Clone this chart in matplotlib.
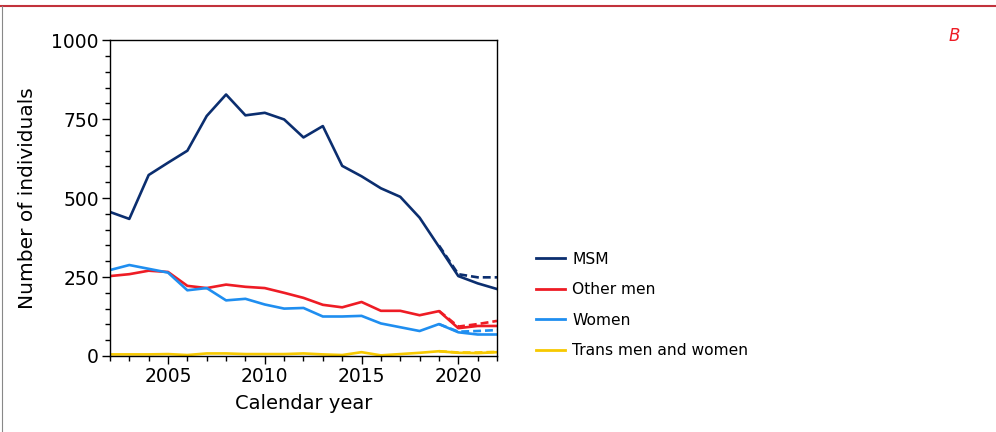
import matplotlib.pyplot as plt
from matplotlib.lines import Line2D
from matplotlib.ticker import MultipleLocator

years = list(range(2002, 2023))
msm = [456, 434, 573, 612, 650, 760, 828, 762, 770, 749, 692, 728, 602, 569, 531, 504, 438, 346, 253, 230, 212]
other_men = [253, 259, 270, 266, 222, 215, 226, 219, 215, 200, 184, 162, 154, 171, 143, 143, 129, 142, 88, 95, 95]
women = [272, 288, 276, 264, 208, 215, 176, 181, 163, 150, 152, 125, 125, 127, 103, 91, 79, 101, 75, 68, 68]
trans = [5, 5, 5, 6, 3, 8, 8, 6, 6, 6, 8, 5, 3, 12, 2, 6, 10, 15, 10, 9, 12]

# adjusted (dashed) estimates for recent years
adj_years = [2019, 2020, 2021, 2022]
msm_adj = [350, 259, 249, 249]
other_adj = [143, 93, 101, 111]
women_adj = [101, 77, 79, 82]
trans_adj = [15, 11, 11, 13]

labels = ['MSM', 'Other men', 'Women', 'Trans men and women']
colors = ['#0b2e6f', '#ee1c25', '#1f8ef0', '#f7c900']

fig = plt.figure(figsize=(9.96, 4.32), dpi=100)
ax = fig.add_axes([0.1104, 0.176, 0.3886, 0.731])

series = [msm, other_men, women, trans]
adj = [msm_adj, other_adj, women_adj, trans_adj]
for s, a, c in zip(series, adj, colors):
    ax.plot(years, s, color=c, lw=1.9)
    ax.plot(adj_years, a, color=c, lw=1.9, ls=(0, (3, 1.5)))

ax.set_xlim(2002, 2022)
ax.set_ylim(0, 1000)
ax.set_yticks([0, 250, 500, 750, 1000])
ax.yaxis.set_minor_locator(MultipleLocator(50))
ax.set_xticks([2005, 2010, 2015, 2020])
ax.xaxis.set_minor_locator(MultipleLocator(1))
ax.tick_params(which='major', direction='out', length=6, width=1, labelsize=13.5, pad=2)
ax.tick_params(which='minor', direction='out', length=3.5, width=1)
for sp in ax.spines.values():
    sp.set_linewidth(1)
ax.set_ylabel('Number of individuals', fontsize=14.5, labelpad=10)
ax.set_xlabel('Calendar year', fontsize=14, labelpad=6)

handles = [Line2D([], [], color=c, lw=2) for c in colors]
fig.legend(handles, labels, loc='upper left', bbox_to_anchor=(0.524, 0.45),
           frameon=False, fontsize=11.2, handlelength=1.9, labelspacing=1.0,
           handletextpad=0.45)

fig.text(0.958, 0.905, 'B', color='#ee1c25', style='italic', fontsize=12, ha='center')

# frame decorations
fig.add_artist(Line2D([0, 1], [0.986, 0.986], color='#c2323c', lw=1.5, transform=fig.transFigure))
fig.add_artist(Line2D([0.002, 0.002], [0, 0.986], color='#888888', lw=0.8, transform=fig.transFigure))

fig.savefig('out.png', dpi=100)
